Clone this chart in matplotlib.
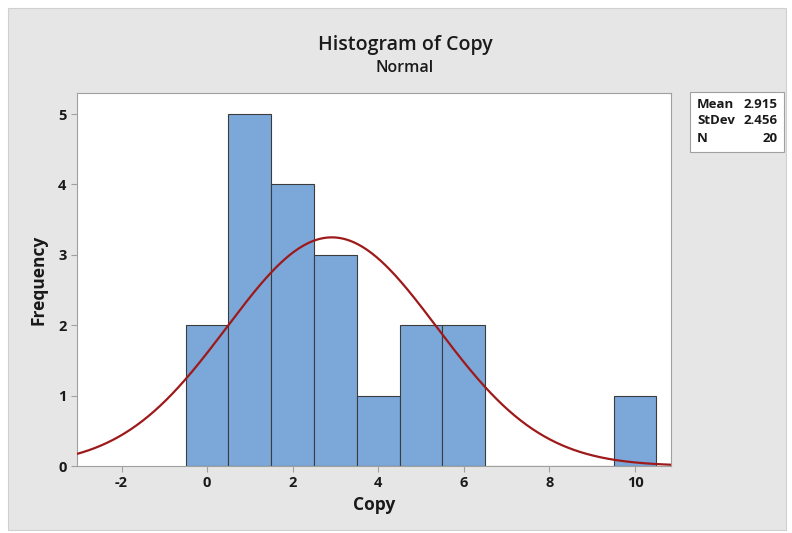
import numpy as np
import matplotlib
matplotlib.use('Agg')
import matplotlib.pyplot as plt
from matplotlib.patches import Rectangle

# bin midpoints and counts
bins = [0, 1, 2, 3, 4, 5, 6, 7, 8, 9, 10]
counts = [2, 5, 4, 3, 1, 2, 2, 0, 0, 0, 1]
mean = 2.915
stdev = 2.456
n = 20

plt.rcParams['font.family'] = ['Open Sans', 'DejaVu Sans']
plt.rcParams['axes.unicode_minus'] = False

fig = plt.figure(figsize=(7.92, 5.33), dpi=100)
fig.patch.set_facecolor('white')
fig.patches.append(Rectangle((8/792, 3/533), 778/792, 522/533, transform=fig.transFigure,
                             facecolor='#e6e6e6', edgecolor='#d0d0d0', lw=0.8, zorder=-10))

ax = fig.add_axes([77/792, 1 - 466/533, 594/792, 373/533], zorder=2)
ax.bar(bins, counts, width=1.0, color='#7ba7d9', edgecolor='#3c3c3c', linewidth=0.8, zorder=2)

xs = np.linspace(-3.04, 10.84, 400)
ys = n * 1.0 / (stdev * np.sqrt(2 * np.pi)) * np.exp(-0.5 * ((xs - mean) / stdev) ** 2)
ax.plot(xs, ys, color='#9e1a1a', lw=1.6, zorder=3)

ax.set_xlim(-3.04, 10.84)
ax.set_ylim(0, 5.3)
ax.set_xticks([-2, 0, 2, 4, 6, 8, 10])
ax.set_yticks([0, 1, 2, 3, 4, 5])
for s in ax.spines.values():
    s.set_color('#a0a0a0')
    s.set_linewidth(0.8)
ax.tick_params(colors='#a0a0a0', labelcolor='#1a1a1a', labelsize=10.5, length=4, width=0.8)
for lab in ax.get_xticklabels() + ax.get_yticklabels():
    lab.set_fontweight('bold')

ax.set_xlabel('Copy', fontsize=12.5, fontweight='bold', color='#1a1a1a', labelpad=4)
ax.set_ylabel('Frequency', fontsize=12.5, fontweight='bold', color='#1a1a1a', labelpad=8)

fig.text(405/792, 1 - 45/533, 'Histogram of Copy', ha='center', va='center',
         fontsize=14, fontweight='semibold', color='#1a1a1a')
fig.text(405/792, 1 - 68/533, 'Normal', ha='center', va='center',
         fontsize=11.5, fontweight='semibold', color='#1a1a1a')

# stats box
fig.patches.append(Rectangle((690/792, 1 - 152/533), 94/792, 60/533, transform=fig.transFigure,
                             facecolor='white', edgecolor='#a0a0a0', lw=0.8, zorder=1))
labels = ['Mean', 'StDev', 'N']
values = ['%.3f' % mean, '%.3f' % stdev, '%d' % n]
for i, (l, v) in enumerate(zip(labels, values)):
    yy = 1 - (104 + i * 17) / 533
    fig.text(697/792, yy, l, ha='left', va='center', fontsize=9.5, fontweight='bold', color='#1a1a1a')
    fig.text(778/792, yy, v, ha='right', va='center', fontsize=9.5, fontweight='bold', color='#1a1a1a')

fig.savefig('out.png', dpi=100, facecolor=fig.get_facecolor())
